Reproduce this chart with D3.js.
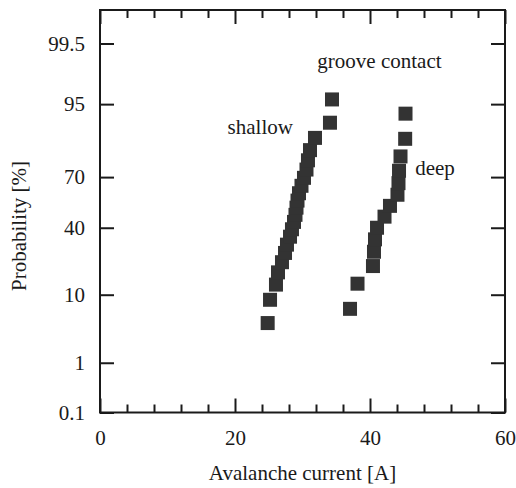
<!DOCTYPE html>
<html>
<head>
<meta charset="utf-8">
<script src="https://cdn.jsdelivr.net/npm/d3@7"></script>
<style>
  html, body { margin: 0; padding: 0; background: #fff; }
  svg { display: block; font-family: "Liberation Serif", "Times New Roman", serif; }
</style>
</head>
<body>
<svg id="chart" width="516" height="488"></svg>
<script>
// ---- data ----
const shallowCurrent = [24.84, 25.19, 26.07, 26.37, 26.96, 27.41, 27.70, 28.15, 28.44, 28.74, 28.96,
                        29.11, 29.26, 29.48, 29.85, 30.22, 30.59, 30.81, 31.11, 31.85, 34.07, 34.37];
const shallowProb = [4.3, 8.7, 13.0, 17.4, 21.7, 26.1, 30.4, 34.8, 39.1, 43.5, 47.8,
                     52.2, 56.5, 60.9, 65.2, 69.6, 73.9, 78.3, 82.6, 87.0, 91.3, 95.7];
const deepCurrent = [37.04, 38.15, 40.44, 40.59, 40.74, 41.04, 42.15, 42.96, 44.07, 44.22, 44.30, 44.52, 45.21, 45.26];
const deepProb = [6.7, 13.3, 20.0, 26.7, 33.3, 40.0, 46.7, 53.3, 60.0, 66.7, 73.3, 80.0, 86.7, 93.3];
const xMajorTicks = [0, 20, 40, 60];
const xMinorTicks = [4, 8, 12, 16, 24, 28, 32, 36, 44, 48, 52, 56];
const yTickLabels = [0.1, 1, 10, 40, 70, 95, 99.5];
const annotations = [
  { text: "groove contact", x: 32.2, p: 98.6 },
  { text: "shallow", x: 18.9, p: 88.2 },
  { text: "deep", x: 46.7, p: 71.0 }
];

// inverse standard normal CDF (Acklam)
function probit(p) {
  const a = [-3.969683028665376e+01, 2.209460984245205e+02, -2.759285104469687e+02, 1.383577518672690e+02, -3.066479806614716e+01, 2.506628277459239e+00];
  const b = [-5.447609879822406e+01, 1.615858368580409e+02, -1.556989798598866e+02, 6.680131188771972e+01, -1.328068155288572e+01];
  const c = [-7.784894002430293e-03, -3.223964580411365e-01, -2.400758277161838e+00, -2.549732539343734e+00, 4.374664141464968e+00, 2.938163982698783e+00];
  const d = [7.784695709041462e-03, 3.224671290700398e-01, 2.445134137142996e+00, 3.754408661907416e+00];
  const pl = 0.02425, ph = 1 - pl;
  let q, r;
  if (p < pl) {
    q = Math.sqrt(-2 * Math.log(p));
    return (((((c[0]*q+c[1])*q+c[2])*q+c[3])*q+c[4])*q+c[5]) / ((((d[0]*q+d[1])*q+d[2])*q+d[3])*q+1);
  } else if (p <= ph) {
    q = p - 0.5; r = q * q;
    return (((((a[0]*r+a[1])*r+a[2])*r+a[3])*r+a[4])*r+a[5])*q / (((((b[0]*r+b[1])*r+b[2])*r+b[3])*r+b[4])*r+1);
  } else {
    q = Math.sqrt(-2 * Math.log(1 - p));
    return -(((((c[0]*q+c[1])*q+c[2])*q+c[3])*q+c[4])*q+c[5]) / ((((d[0]*q+d[1])*q+d[2])*q+d[3])*q+1);
  }
}

// ---- layout ----
const L = 100, R = 505, T = 10, B = 412.5;
const ink = "#1a1a1a";
const svg = d3.select("#chart");

const x = d3.scaleLinear().domain([0, 60]).range([L, R]);
const z = d3.scaleLinear().domain([probit(0.001), probit(0.999)]).range([B, T]);
const y = p => z(probit(p / 100));
// a scale-like wrapper for axis use
const yScale = Object.assign(p => y(p), { copy: () => yScale, range: () => [B, T], domain: () => [0.1, 99.9] });

function styleAxis(g) {
  g.select(".domain").remove();
  g.selectAll(".tick line").attr("stroke", ink).attr("stroke-width", 2);
  g.selectAll(".tick text").attr("fill", ink).attr("font-size", 21)
    .attr("font-family", "'Liberation Serif', 'Times New Roman', serif");
}

// bottom axis (major + minor)
svg.append("g").attr("transform", `translate(0,${B})`)
  .call(d3.axisBottom(x).tickValues(xMajorTicks).tickSizeInner(-14).tickSizeOuter(0).tickPadding(18).tickFormat(d3.format("d")))
  .call(styleAxis);
svg.append("g").attr("transform", `translate(0,${B})`)
  .call(d3.axisBottom(x).tickValues(xMinorTicks).tickSizeInner(-8).tickSizeOuter(0).tickFormat(""))
  .call(styleAxis);
// top axis
svg.append("g").attr("transform", `translate(0,${T})`)
  .call(d3.axisTop(x).tickValues(xMajorTicks).tickSizeInner(-14).tickSizeOuter(0).tickFormat(""))
  .call(styleAxis);
svg.append("g").attr("transform", `translate(0,${T})`)
  .call(d3.axisTop(x).tickValues(xMinorTicks).tickSizeInner(-8).tickSizeOuter(0).tickFormat(""))
  .call(styleAxis);
// left axis
svg.append("g").attr("transform", `translate(${L},0)`)
  .call(d3.axisLeft(yScale).tickValues(yTickLabels).tickSizeInner(-14).tickSizeOuter(0).tickPadding(15).tickFormat(d => String(d)))
  .call(styleAxis);
// right axis
svg.append("g").attr("transform", `translate(${R},0)`)
  .call(d3.axisRight(yScale).tickValues(yTickLabels).tickSizeInner(-14).tickSizeOuter(0).tickFormat(""))
  .call(styleAxis);

// frame
svg.append("rect").attr("x", L).attr("y", T).attr("width", R - L).attr("height", B - T)
  .attr("fill", "none").attr("stroke", ink).attr("stroke-width", 2);

// markers
const S = 14;
function drawSeries(xs, ps) {
  svg.append("g").selectAll("rect").data(xs.map((v, i) => [v, ps[i]])).join("rect")
    .attr("x", d => x(d[0]) - S / 2).attr("y", d => y(d[1]) - S / 2)
    .attr("width", S).attr("height", S).attr("fill", "#333333");
}
drawSeries(shallowCurrent, shallowProb);
drawSeries(deepCurrent, deepProb);

// annotations
svg.append("g").selectAll("text").data(annotations).join("text")
  .attr("x", d => x(d.x)).attr("y", d => y(d.p))
  .attr("font-size", 21).attr("fill", ink).text(d => d.text);

// axis titles
svg.append("text").attr("x", (L + R) / 2 + 0).attr("y", 480).attr("text-anchor", "middle")
  .attr("font-size", 21).attr("fill", ink).text("Avalanche current [A]");
svg.append("text").attr("transform", "translate(26,226) rotate(-90)").attr("text-anchor", "middle")
  .attr("font-size", 21).attr("fill", ink).text("Probability [%]");
</script>
</body>
</html>
